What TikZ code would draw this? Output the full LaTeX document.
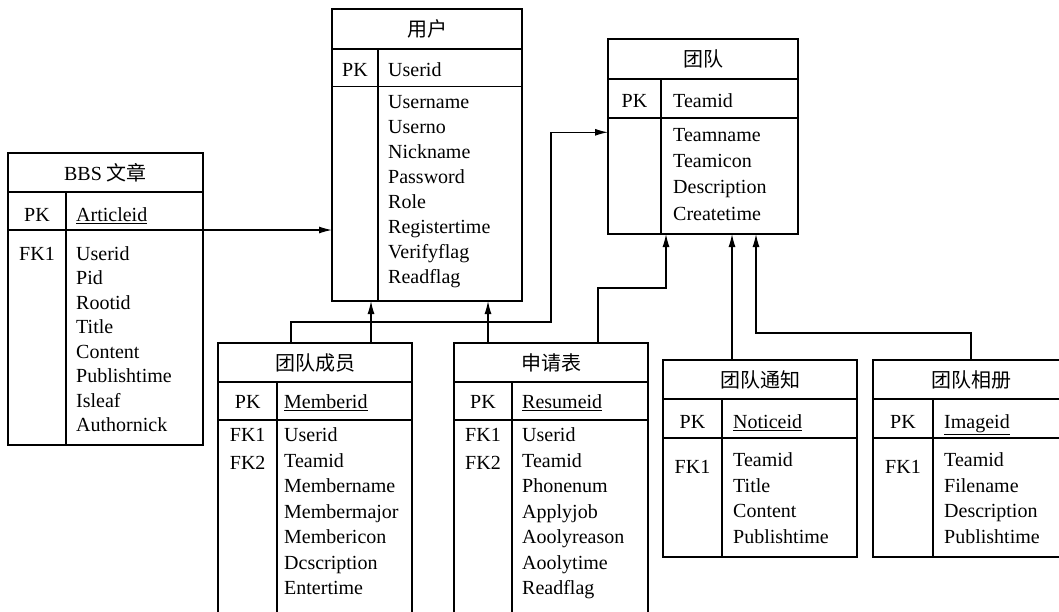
\documentclass[tikz,border=0pt]{standalone}
\usepackage{fontspec}
\setmainfont{Liberation Serif}
\newfontfamily\cjk{Noto Sans CJK SC}
\usetikzlibrary{arrows.meta, positioning}

\begin{document}
\begin{tikzpicture}[
    x=1pt, y=-1pt,
    font=\fontsize{20}{25}\selectfont,
    frame/.style={rectangle, draw=black, line width=1.2pt, outer sep=0pt, inner sep=0pt, anchor=north west},
    hdr/.style={rectangle, draw=black, line width=1.2pt, outer sep=0pt, inner sep=0pt, anchor=north west},
    key/.style={anchor=base, inner sep=0pt},
    col/.style={anchor=base west, inner sep=0pt},
    divider/.style={line width=1.2pt},
    arrow/.style={-{Latex[length=13pt,width=7pt]}, line width=1.2pt}
]
\useasboundingbox (0,0) rectangle (1059,611);
\clip (0,0) rectangle (1059,611);

% BBS
\node[frame, minimum width=195pt, minimum height=292pt] (bbs) at (8,153) {};
\node[hdr, minimum width=195pt, minimum height=39pt] (bbs-t) at (bbs.north west) {BBS {\cjk 文章}};
\node[hdr, minimum width=195pt, minimum height=38pt] (bbs-k) at (bbs-t.south west) {};
\draw[divider] ([xshift=58pt]bbs-t.south west) -- ([xshift=58pt]bbs.south west);
\node[key] (bbs-pk) at (37,221.7) {PK};
\node[col] (bbs-id) at (76,221.7) {\underline{Articleid}};
\node[key] (bbs-fk1) at (37,260) {FK1};
\foreach \f [count=\i from 0] in {Userid,Pid,Rootid,Title,Content,Publishtime,Isleaf,Authornick}
    \node[col] (bbs-f\i) at (76,260+24.5*\i) {\f};

% user
\node[frame, minimum width=190pt, minimum height=292pt] (user) at (332,9) {};
\node[hdr, minimum width=190pt, minimum height=40pt] (user-t) at (user.north west) {\cjk 用户};
\node[hdr, minimum width=190pt, minimum height=37.5pt] (user-k) at (user-t.south west) {};
\draw[divider] ([xshift=46pt]user-t.south west) -- ([xshift=46pt]user.south west);
\node[key] (user-pk) at (355,76.7) {PK};
\node[col] (user-id) at (388,76.7) {Userid};
\foreach \f [count=\i from 0] in {Username,Userno,Nickname,Password,Role,Registertime,Verifyflag,Readflag}
    \node[col] (user-f\i) at (388,108.3+25*\i) {\f};

% team
\node[frame, minimum width=190pt, minimum height=195pt] (team) at (608,39) {};
\node[hdr, minimum width=190pt, minimum height=40pt] (team-t) at (team.north west) {\cjk 团队};
\node[hdr, minimum width=190pt, minimum height=39pt] (team-k) at (team-t.south west) {};
\draw[divider] ([xshift=53pt]team-t.south west) -- ([xshift=53pt]team.south west);
\node[key] (team-pk) at (634.5,107.3) {PK};
\node[col] (team-id) at (673,107.3) {Teamid};
\foreach \f [count=\i from 0] in {Teamname,Teamicon,Description,Createtime}
    \node[col] (team-f\i) at (673,141.7+26.1*\i) {\f};

% member
\node[frame, minimum width=194pt, minimum height=300pt] (member) at (218,343) {};
\node[hdr, minimum width=194pt, minimum height=39pt] (member-t) at (member.north west) {\cjk 团队成员};
\node[hdr, minimum width=194pt, minimum height=38pt] (member-k) at (member-t.south west) {};
\draw[divider] ([xshift=59pt]member-t.south west) -- ([xshift=59pt]member.south west);
\node[key] (member-pk) at (247.7,408.3) {PK};
\node[col] (member-id) at (284,408.3) {\underline{Memberid}};
\node[key] (member-fk1) at (247.7,441.7) {FK1};
\node[key] (member-fk2) at (247.7,469) {FK2};
\foreach \f [count=\i from 0] in {Userid,Teamid,Membername,Membermajor,Membericon,Dcscription,Entertime}
    \node[col] (member-f\i) at (284,441.7+25.5*\i) {\f};

% apply
\node[frame, minimum width=194pt, minimum height=300pt] (apply) at (454,343) {};
\node[hdr, minimum width=194pt, minimum height=39pt] (apply-t) at (apply.north west) {\cjk 申请表};
\node[hdr, minimum width=194pt, minimum height=38pt] (apply-k) at (apply-t.south west) {};
\draw[divider] ([xshift=58pt]apply-t.south west) -- ([xshift=58pt]apply.south west);
\node[key] (apply-pk) at (483,408.3) {PK};
\node[col] (apply-id) at (522,408.3) {\underline{Resumeid}};
\node[key] (apply-fk1) at (483,441.7) {FK1};
\node[key] (apply-fk2) at (483,469) {FK2};
\foreach \f [count=\i from 0] in {Userid,Teamid,Phonenum,Applyjob,Aoolyreason,Aoolytime,Readflag}
    \node[col] (apply-f\i) at (522,441.7+25.5*\i) {\f};

% notice
\node[frame, minimum width=194pt, minimum height=197pt] (notice) at (663,360) {};
\node[hdr, minimum width=194pt, minimum height=39pt] (notice-t) at (notice.north west) {\cjk 团队通知};
\node[hdr, minimum width=194pt, minimum height=39pt] (notice-k) at (notice-t.south west) {};
\draw[divider] ([xshift=59pt]notice-t.south west) -- ([xshift=59pt]notice.south west);
\node[key] (notice-pk) at (692.5,428.3) {PK};
\node[col] (notice-id) at (733,428.3) {\underline{Noticeid}};
\node[key] (notice-fk1) at (692.5,473.3) {FK1};
\foreach \f [count=\i from 0] in {Teamid,Title,Content,Publishtime}
    \node[col] (notice-f\i) at (733,466.7+25.5*\i) {\f};

% album
\node[frame, minimum width=196pt, minimum height=197pt] (album) at (873,360) {};
\node[hdr, minimum width=196pt, minimum height=39pt] (album-t) at (album.north west) {\cjk 团队相册};
\node[hdr, minimum width=196pt, minimum height=39pt] (album-k) at (album-t.south west) {};
\draw[divider] ([xshift=60pt]album-t.south west) -- ([xshift=60pt]album.south west);
\node[key] (album-pk) at (903,428.3) {PK};
\node[col] (album-id) at (944,428.3) {\underline{Imageid}};
\node[key] (album-fk1) at (903,473.3) {FK1};
\foreach \f [count=\i from 0] in {Teamid,Filename,Description,Publishtime}
    \node[col] (album-f\i) at (944,466.7+25.5*\i) {\f};

% links
\coordinate (bendA) at (551,132.3);
\draw[arrow] (bbs-k.south east) -- (bbs-k.south east -| user.west);
\draw[arrow] ([xshift=153pt]member.north west) -- ([xshift=153pt]member.north west |- user.south);
\draw[arrow] ([xshift=73pt]member.north west) -- ++(0,-21) -| (bendA) -- (bendA -| team.west);
\draw[arrow] ([xshift=34pt]apply.north west) -- ([xshift=34pt]apply.north west |- user.south);
\draw[arrow] ([xshift=144pt]apply.north west) -- ++(0,-55) -| ([xshift=58pt]team.south west);
\draw[arrow] ([xshift=69pt]notice.north west) -- ([xshift=69pt]notice.north west |- team.south);
\draw[arrow] ([xshift=98pt]album.north west) -- ++(0,-27) -| ([xshift=148pt]team.south west);

\end{tikzpicture}
\end{document}
